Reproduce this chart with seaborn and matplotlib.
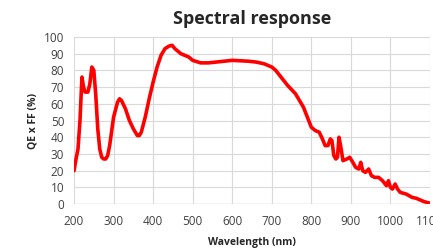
import numpy as np
import pandas as pd
import matplotlib
matplotlib.use("Agg")
import matplotlib.pyplot as plt
import seaborn as sns

# wavelength (nm) and QE x FF (%)
wavelength = [200, 205, 210, 215, 220, 224, 228, 235, 240, 245, 250, 255, 260, 265,
              270, 275, 280, 285, 290, 300, 310, 315, 320, 330, 340, 350, 360, 365,
              370, 380, 390, 400, 410, 420, 430, 440, 448, 455, 460, 470, 480, 490,
              500, 520, 540, 560, 600, 640, 660, 680, 700, 710, 720, 740, 760, 770,
              780, 790, 800, 810, 820, 828, 835, 842, 848, 852, 857, 862, 866, 870,
              874, 880, 890, 897, 905, 912, 920, 925, 930, 937, 945, 952, 960, 970,
              980, 990, 995, 1000, 1005, 1012, 1018, 1025, 1040, 1055, 1065, 1075,
              1085, 1100]
qe = [20, 27, 33, 50, 76, 70, 67, 67, 72, 82, 80, 65, 45, 33,
      28, 27, 27, 29, 35, 52, 61, 63, 62, 57, 50, 45, 41, 41,
      43, 52, 63, 73, 82, 89, 93, 94.5, 95, 93, 92, 90, 89, 88,
      86, 84.5, 84.5, 85, 86, 85.5, 85, 84, 82, 80, 77, 71, 66, 62,
      58, 52, 46, 44, 43, 39, 35, 35, 39, 38, 29, 27, 28, 40,
      35, 26, 27, 28, 25, 22, 21, 25, 20, 19, 21, 17, 16, 16,
      14, 11, 14, 10, 9, 12, 9, 7, 6, 4, 3.5, 2.5,
      1.5, 0.5]

x_ticks = list(range(200, 1101, 100))
y_ticks = list(range(0, 101, 10))

df = pd.DataFrame({"Wavelength": wavelength, "QE": qe})

sns.set_theme(style="whitegrid")
plt.rcParams["font.family"] = ["Open Sans", "DejaVu Sans"]

fig = plt.figure(figsize=(4.33, 2.48), dpi=100)
ax = fig.add_axes([0.171, 0.177, 0.822, 0.674])

sns.lineplot(data=df, x="Wavelength", y="QE", sort=False, color="#ff0000",
             linewidth=2.6, ax=ax)

ax.set_xlim(200, 1100)
ax.set_ylim(0, 100)
ax.set_xticks(x_ticks)
ax.set_yticks(y_ticks)
ax.grid(True, color="#d9d9d9", linewidth=0.8)
for s in ax.spines.values():
    s.set_visible(False)
ax.axhline(0, color="#d0d0d0", linewidth=1.0, zorder=0)
ax.tick_params(axis="both", labelsize=8.5, labelcolor="#404040", length=0)
ax.tick_params(axis="x", pad=8)
ax.tick_params(axis="y", pad=7)

ax.set_title("Spectral response", fontsize=13, fontweight="bold", pad=9)
ax.set_xlabel("Wavelength (nm)", fontsize=7.5, fontweight="bold", labelpad=6.5)
ax.set_ylabel("QE x FF (%)", fontsize=7.5, fontweight="bold", labelpad=4)

fig.savefig("out.png", dpi=100)
